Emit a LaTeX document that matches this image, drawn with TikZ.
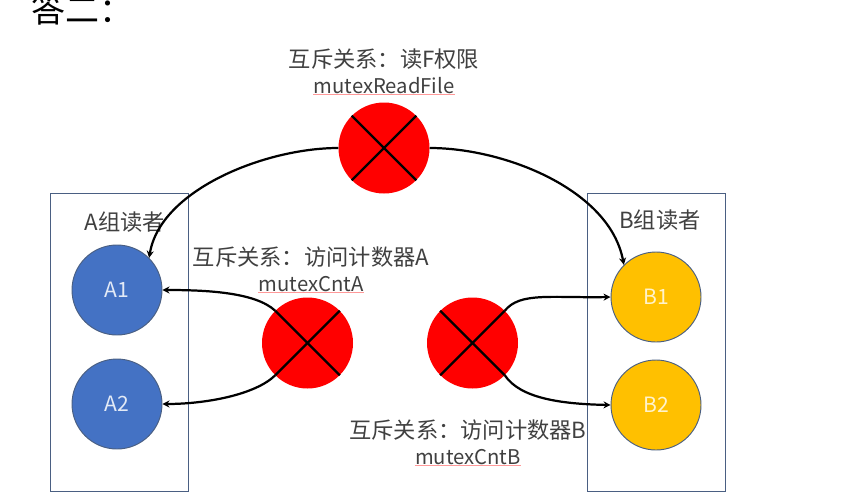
\documentclass[tikz,border=0pt]{standalone}
\usepackage{fontspec}
\setmainfont{Noto Sans CJK SC}
\newfontfamily\answerfont{Noto Sans CJK SC}
\usetikzlibrary{arrows.meta}
\definecolor{textgray}{HTML}{404040}
\definecolor{boxblue}{HTML}{4A5F82}
\definecolor{readerA}{HTML}{4472C4}
\definecolor{readerB}{HTML}{FFC000}
\newcommand{\fullcolon}{\symbol{"FF1A}}
\tikzset{
  groupbox/.style={draw=boxblue, line width=0.8pt, minimum width=4.14cm, minimum height=8.94cm, inner sep=0pt},
  mutex/.style={circle, fill=red, minimum size=2.73cm, inner sep=0pt},
  reader/.style={circle, draw=boxblue, line width=0.8pt, minimum size=2.7cm, inner sep=0pt, font=\fontsize{18}{18}\selectfont},
  caption/.style={text=textgray, inner sep=0pt, font=\fontsize{19}{20}\selectfont},
  varname/.style={text=textgray, inner sep=0pt, font=\fontsize{17.3}{18}\selectfont},
  cross/.style={line width=1.9pt, black},
  link/.style={line width=1.9pt, black, -{Stealth[length=6pt,width=6pt]}},
  spell/.style={red!40, line width=0.5pt}
}
\begin{document}
\begin{tikzpicture}[x=0.03cm,y=-0.03cm]
\useasboundingbox (0,0) rectangle (852,502);
\clip (0,0) rectangle (852,502);
\node[anchor=base west, inner sep=0pt, font=\fontsize{29}{29}\selectfont] (answer) at (31,22) {\answerfont 答二\fullcolon};
\node[groupbox] (groupA) at (119,342) {};
\node[groupbox] (groupB) at (656,342) {};
\node[caption] (nameA) at (125,222) {A组读者};
\node[caption] (nameB) at (660,220) {B组读者};
\node[reader, fill=readerA, text=white!85!readerA] (A1) at (117,290) {A1};
\node[reader, fill=readerA, text=white!85!readerA] (A2) at (117,404) {A2};
\node[reader, fill=readerB, text=white!80!readerB] (B1) at (656,297) {B1};
\node[reader, fill=readerB, text=white!80!readerB] (B2) at (656,405) {B2};
\node[mutex] (mutexFile) at (384,148) {};
\node[mutex] (mutexA) at (307.5,343) {};
\node[mutex] (mutexB) at (472.5,343) {};
\foreach \m in {mutexFile,mutexA,mutexB}{
  \draw[cross] (\m.north west) -- (\m.south east);
  \draw[cross] (\m.north east) -- (\m.south west);
}
\node[caption] (titleFile) at (384,59) {互斥关系\fullcolon 读F权限};
\node[varname] (labelFile) at (384,86) {mutexReadFile};
\node[caption] (titleA) at (311,257) {互斥关系\fullcolon 访问计数器A};
\node[varname] (labelA) at (311,284) {mutexCntA};
\node[caption] (titleB) at (468,430) {互斥关系\fullcolon 访问计数器B};
\node[varname] (labelB) at (468,457) {mutexCntB};
\draw[spell] (labelFile.south west) -- (labelFile.south east);
\draw[spell] (labelA.south west) -- (labelA.south east);
\draw[spell] (labelB.south west) -- (labelB.south east);
\draw[link] (mutexFile.west) .. controls (265,148) and (160,190) .. (A1.north east);
\draw[link] (mutexFile.east) .. controls (505,148) and (610,190) .. (B1.north west);
\draw[link] (mutexA.north west) .. controls (255,292) and (205,290) .. (A1.east);
\draw[link] (mutexA.south west) .. controls (255,395) and (205,404) .. (A2.east);
\draw[link] (mutexB.north east) .. controls (520,292) and (550,298) .. (B1.west);
\draw[link] (mutexB.south east) .. controls (520,398) and (560,404) .. (B2.west);
\end{tikzpicture}
\end{document}
